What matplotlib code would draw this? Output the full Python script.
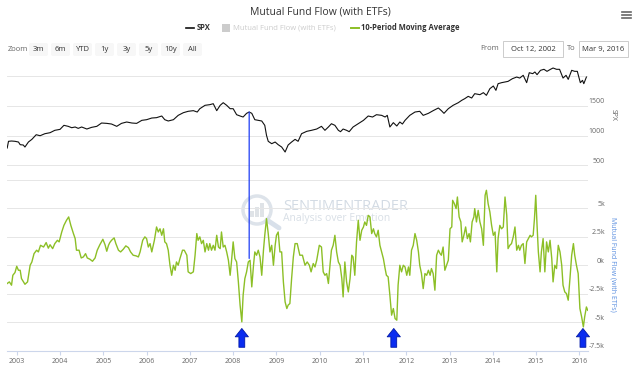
import matplotlib
matplotlib.use('Agg')
import matplotlib.pyplot as plt
from matplotlib.patches import ConnectionPatch, FancyBboxPatch, Rectangle, Circle
import matplotlib.transforms as mtransforms

plt.rcParams['font.family'] = ['Open Sans', 'DejaVu Sans']

# --- data (decimal years) ---
spx_dates = [2002.78, 2002.81, 2002.88, 2002.96, 2003.04, 2003.08, 2003.15, 2003.19, 2003.27, 2003.35,
             2003.45, 2003.54, 2003.65, 2003.77, 2003.88, 2004.00, 2004.09, 2004.19, 2004.27, 2004.35,
             2004.42, 2004.50, 2004.62, 2004.73, 2004.85, 2004.96, 2005.08, 2005.19, 2005.31, 2005.42,
             2005.54, 2005.66, 2005.77, 2005.89, 2006.00, 2006.12, 2006.23, 2006.35, 2006.42, 2006.50,
             2006.62, 2006.73, 2006.85, 2006.96, 2007.08, 2007.17, 2007.23, 2007.35, 2007.46, 2007.54,
             2007.62, 2007.70, 2007.77, 2007.85, 2007.93, 2008.00, 2008.08, 2008.16, 2008.23, 2008.31,
             2008.37, 2008.43, 2008.50, 2008.58, 2008.66, 2008.73, 2008.77, 2008.81, 2008.89, 2008.97,
             2009.04, 2009.12, 2009.20, 2009.27, 2009.35, 2009.43, 2009.50, 2009.58, 2009.70, 2009.81,
             2009.93, 2010.04, 2010.12, 2010.20, 2010.27, 2010.35, 2010.43, 2010.48, 2010.54, 2010.62,
             2010.68, 2010.77, 2010.89, 2011.01, 2011.12, 2011.22, 2011.31, 2011.43, 2011.51, 2011.56,
             2011.62, 2011.70, 2011.78, 2011.85, 2011.91, 2011.97, 2012.08, 2012.20, 2012.31, 2012.39,
             2012.51, 2012.62, 2012.74, 2012.81, 2012.87, 2012.97, 2013.08, 2013.20, 2013.28, 2013.35,
             2013.43, 2013.51, 2013.58, 2013.70, 2013.78, 2013.85, 2013.93, 2014.01, 2014.07, 2014.12,
             2014.20, 2014.28, 2014.35, 2014.45, 2014.55, 2014.62, 2014.70, 2014.78, 2014.84, 2014.92,
             2014.97, 2015.02, 2015.10, 2015.18, 2015.25, 2015.33, 2015.39, 2015.47, 2015.54, 2015.62,
             2015.69, 2015.74, 2015.82, 2015.89, 2015.95, 2016.02, 2016.07, 2016.10, 2016.16]
spx_values = [791, 904, 909, 904, 892, 847, 842, 808, 892, 937,
              1015, 998, 1032, 1049, 1089, 1105, 1173, 1156, 1133, 1145,
              1122, 1145, 1111, 1139, 1156, 1212, 1206, 1195, 1156, 1206,
              1229, 1212, 1206, 1257, 1268, 1296, 1302, 1330, 1268, 1246,
              1268, 1341, 1386, 1409, 1420, 1397, 1453, 1510, 1521, 1537,
              1420, 1510, 1554, 1510, 1453, 1453, 1352, 1330, 1313, 1375,
              1397, 1375, 1268, 1257, 1246, 1173, 1005, 904, 864, 892,
              847, 808, 724, 842, 892, 937, 904, 1032, 1072, 1089,
              1111, 1156, 1089, 1145, 1200, 1173, 1089, 1066, 1111, 1089,
              1066, 1145, 1200, 1257, 1330, 1313, 1352, 1341, 1313, 1341,
              1145, 1218, 1162, 1229, 1195, 1257, 1341, 1397, 1409, 1341,
              1375, 1420, 1465, 1420, 1375, 1453, 1510, 1554, 1594, 1622,
              1661, 1633, 1706, 1689, 1723, 1678, 1790, 1835, 1762, 1874,
              1891, 1902, 1913, 1958, 1986, 1969, 2015, 1891, 2059, 2043,
              2071, 2026, 2099, 2116, 2082, 2116, 2138, 2116, 2116, 1969,
              2015, 1947, 2099, 2082, 2082, 1891, 1930, 1874, 1986]

flow_dates = [2002.78, 2002.83, 2002.88, 2002.91, 2002.96, 2003.00, 2003.04, 2003.08, 2003.11, 2003.19,
              2003.25, 2003.31, 2003.35, 2003.40, 2003.46, 2003.50, 2003.55, 2003.62, 2003.68, 2003.73,
              2003.77, 2003.83, 2003.88, 2003.94, 2003.98, 2004.04, 2004.09, 2004.15, 2004.20, 2004.25,
              2004.31, 2004.35, 2004.38, 2004.44, 2004.49, 2004.54, 2004.59, 2004.63, 2004.69, 2004.75,
              2004.81, 2004.86, 2004.92, 2004.99, 2005.04, 2005.08, 2005.12, 2005.15, 2005.19, 2005.25,
              2005.29, 2005.35, 2005.40, 2005.46, 2005.52, 2005.58, 2005.63, 2005.69, 2005.76, 2005.81,
              2005.85, 2005.91, 2005.96, 2006.00, 2006.04, 2006.08, 2006.12, 2006.18, 2006.23, 2006.27,
              2006.31, 2006.35, 2006.39, 2006.42, 2006.46, 2006.50, 2006.54, 2006.58, 2006.62, 2006.66,
              2006.69, 2006.73, 2006.77, 2006.83, 2006.87, 2006.93, 2006.96, 2007.02, 2007.08, 2007.12,
              2007.16, 2007.19, 2007.23, 2007.27, 2007.31, 2007.35, 2007.39, 2007.43, 2007.46, 2007.50,
              2007.54, 2007.58, 2007.62, 2007.66, 2007.70, 2007.73, 2007.77, 2007.81, 2007.85, 2007.89,
              2007.93, 2007.96, 2008.00, 2008.04, 2008.08, 2008.12, 2008.16, 2008.20, 2008.23, 2008.27,
              2008.31, 2008.35, 2008.39, 2008.43, 2008.47, 2008.50, 2008.54, 2008.58, 2008.62, 2008.66,
              2008.70, 2008.73, 2008.77, 2008.81, 2008.85, 2008.89, 2008.93, 2008.97, 2009.00, 2009.04,
              2009.08, 2009.12, 2009.16, 2009.20, 2009.24, 2009.27, 2009.31, 2009.35, 2009.39, 2009.43,
              2009.48, 2009.54, 2009.60, 2009.66, 2009.71, 2009.76, 2009.80, 2009.85, 2009.89, 2009.93,
              2009.99, 2010.04, 2010.08, 2010.12, 2010.16, 2010.20, 2010.24, 2010.27, 2010.31, 2010.35,
              2010.39, 2010.43, 2010.47, 2010.51, 2010.54, 2010.58, 2010.62, 2010.66, 2010.70, 2010.74,
              2010.77, 2010.81, 2010.85, 2010.89, 2010.93, 2010.97, 2011.01, 2011.04, 2011.08, 2011.12,
              2011.16, 2011.20, 2011.24, 2011.27, 2011.31, 2011.35, 2011.39, 2011.43, 2011.47, 2011.51,
              2011.54, 2011.58, 2011.62, 2011.66, 2011.70, 2011.74, 2011.78, 2011.81, 2011.85, 2011.89,
              2011.93, 2011.97, 2012.01, 2012.05, 2012.08, 2012.12, 2012.16, 2012.20, 2012.24, 2012.28,
              2012.31, 2012.35, 2012.39, 2012.43, 2012.47, 2012.51, 2012.55, 2012.58, 2012.62, 2012.66,
              2012.70, 2012.74, 2012.78, 2012.81, 2012.85, 2012.89, 2012.93, 2012.97, 2013.01, 2013.05,
              2013.07, 2013.11, 2013.15, 2013.18, 2013.22, 2013.26, 2013.29, 2013.33, 2013.37, 2013.41,
              2013.45, 2013.48, 2013.52, 2013.56, 2013.58, 2013.62, 2013.66, 2013.70, 2013.74, 2013.78,
              2013.82, 2013.85, 2013.89, 2013.93, 2013.97, 2014.01, 2014.05, 2014.09, 2014.12, 2014.16,
              2014.20, 2014.24, 2014.28, 2014.32, 2014.35, 2014.39, 2014.43, 2014.47, 2014.51, 2014.55,
              2014.59, 2014.62, 2014.66, 2014.70, 2014.74, 2014.78, 2014.82, 2014.86, 2014.89, 2014.93,
              2014.96, 2014.99, 2015.02, 2015.05, 2015.09, 2015.12, 2015.16, 2015.20, 2015.24, 2015.28,
              2015.32, 2015.36, 2015.39, 2015.43, 2015.47, 2015.51, 2015.55, 2015.59, 2015.62, 2015.66,
              2015.70, 2015.74, 2015.78, 2015.82, 2015.86, 2015.89, 2015.93, 2015.97, 2016.01, 2016.05,
              2016.09, 2016.12, 2016.16, 2016.19]
flow_values = [-1.6, -1.46, -1.75, -0.88, -0.64, -0.09, -0.44, -0.44, -1.17, -1.67,
               -1.46, 0.0, 0.29, 1.02, 1.32, 1.17, 1.75, 1.6, 1.99, 1.5,
               1.8, 1.46, 1.9, 2.19, 2.05, 2.92, 3.5, 3.95, 4.24, 3.5,
               2.78, 2.34, 1.32, 1.32, 0.64, 0.73, 1.02, 0.64, 0.53, 0.35,
               0.64, 1.32, 1.8, 2.28, 1.8, 1.23, 1.75, 1.99, 2.19, 2.4,
               1.9, 1.32, 1.17, 1.4, 1.7, 1.55, 1.17, 0.88, 0.82, 0.73,
               1.17, 2.19, 2.49, 2.34, 1.6, 1.9, 1.17, 2.19, 3.36, 2.92,
               3.2, 2.63, 3.2, 2.05, 1.9, 1.32, 0.0, -0.88, 0.0, -0.44,
               0.29, 0.0, 0.58, 1.32, 1.32, 0.88, -0.58, -0.73, -0.58, 0.88,
               2.78, 2.19, 2.49, 1.9, 2.19, 1.17, 1.9, 1.32, 1.9, 1.32,
               1.75, 1.32, 2.63, 1.6, 1.46, 2.92, 1.6, 1.75, 1.17, 0.44,
               -0.88, 0.29, 2.05, 0.58, 0.29, -1.46, -3.5, -4.97, -2.63, -1.17,
               -0.58, 0.29, 0.44, -1.9, 0.0, 1.17, 0.88, 1.32, 0.73, -0.88,
               1.32, 2.63, 4.09, 2.78, 1.17, 1.75, 0.0, 1.75, 2.63, 2.92,
               1.17, 1.17, -1.46, -3.22, -3.8, -3.5, -3.36, -1.17, 0.73, 1.9,
               1.9, 0.88, 0.88, 0.0, 0.29, 0.0, -0.58, 0.15, -0.15, 0.44,
               1.75, 1.6, -0.58, -0.88, -0.73, -1.6, 0.15, 1.32, 1.75, 2.63,
               1.17, 0.29, 0.0, -1.17, -2.78, 0.29, -1.46, -2.34, -1.17, 0.88,
               0.73, -0.88, 2.05, 3.95, 2.19, 3.07, 3.36, 3.8, 3.5, 4.38,
               4.24, 2.78, 3.2, 2.78, 2.49, 3.07, 1.75, 1.17, 0.58, -0.29,
               -0.88, -1.02, -2.63, -4.38, -3.8, -4.68, -4.82, -1.75, 0.0, -0.58,
               0.0, -0.15, -0.88, -0.15, -0.88, 1.32, 1.75, 2.78, 2.19, 1.17,
               0.0, -0.73, -2.05, -0.73, -0.88, -0.44, -0.88, -0.29, -0.73, -2.19,
               0.88, 1.32, 1.02, 0.88, 1.6, -0.44, 0.0, 0.44, 3.2, 3.36,
               5.7, 5.4, 4.97, 5.99, 4.24, 3.8, 2.05, 2.63, 3.36, 2.34,
               2.78, 2.05, 3.8, 4.24, 4.97, 3.8, 4.82, 3.8, 3.2, 1.75,
               6.14, 6.58, 5.4, 4.68, 3.5, 2.63, 2.92, -0.58, 2.34, 3.5,
               3.2, 3.36, 5.99, 4.38, 1.46, 1.75, 1.9, 2.49, 3.36, 1.32,
               1.75, 1.32, 1.75, 1.9, 0.15, 2.05, 2.34, 2.63, 2.49, 2.63,
               4.09, 6.14, 3.5, 1.17, -0.58, 1.17, 2.34, -0.58, 2.05, 1.17,
               2.19, 0.58, -1.46, 0.0, -0.29, 1.75, 1.17, 0.0, -1.75, -2.34,
               -2.49, -3.07, -1.17, 0.88, 1.9, 0.88, 0.0, -0.73, -3.8, -4.53,
               -5.41, -4.53, -3.66, -3.95]

marker_date, marker_spx, marker_flow = 2008.37, 1397, 0.6
arrow_dates = [2008.20, 2011.71, 2016.08]

years = list(range(2003, 2017))
spx_ticks = [500, 1000, 1500, 2000]
flow_ticks = [-7.5, -5, -2.5, 0, 2.5, 5, 7.5]
flow_tick_labels = ['-7.5k', '-5k', '-2.5k', '0k', '2.5k', '5k', '']
zoom_buttons = ['3m', '6m', 'YTD', '1y', '3y', '5y', '10y', 'All']

GREEN = '#8cbf26'
GRID = '#e6e6e6'
W, H = 640, 373

fig = plt.figure(figsize=(6.4, 3.73), dpi=100)


def px_axes(l, r, t, b, **kw):
    return fig.add_axes([l / W, 1 - b / H, (r - l) / W, (b - t) / H], **kw)


# overlay in pixel coordinates for header + watermark (behind the data)
deco = px_axes(0, W, 0, H, zorder=0)
deco.set_xlim(0, W)
deco.set_ylim(H, 0)
deco.axis('off')

ax1 = px_axes(7.2, 587.7, 61, 179.8, zorder=2)
ax2 = px_axes(7.2, 587.7, 179.8, 350.7, zorder=2)
for ax in (ax1, ax2):
    ax.set_facecolor('none')
    ax.set_xlim(2002.78, 2016.19)
    for s in ax.spines.values():
        s.set_visible(False)
    ax.tick_params(left=False, labelleft=False)

ax1.set_ylim(256, 2256)
ax2.set_ylim(-7.5, 7.5)

ax1.plot(spx_dates, spx_values, color='#111111', lw=0.8, zorder=3)
ax2.plot(flow_dates, flow_values, color=GREEN, lw=1.0, zorder=3)

for v in spx_ticks:
    ax1.axhline(v, color=GRID, lw=0.7, zorder=1)
for v in flow_ticks[1:]:
    ax2.axhline(v, color=GRID, lw=0.7, zorder=1)

# right-hand labels, sitting just above their gridlines
for ax, ticks, labels in ((ax1, spx_ticks[:-1], ['500', '1000', '1500']),
                          (ax2, flow_ticks, flow_tick_labels)):
    tr = mtransforms.offset_copy(mtransforms.blended_transform_factory(ax.transAxes, ax.transData),
                                 fig=fig, x=0, y=4, units='dots')
    for v, lab in zip(ticks, labels):
        ax.text(1.0298, v, lab, transform=tr, ha='right', va='center', fontsize=5, color='#666666')

fig.text(613 / W, 1 - 115 / H, 'SPX', rotation=270, ha='center', va='center', fontsize=5, color='#666666')
fig.text(613 / W, 1 - 264.5 / H, 'Mutual Fund Flow (with ETFs)', rotation=270, ha='center', va='center',
         fontsize=5, color='#5b8fe0')

ax1.tick_params(bottom=False, labelbottom=False)
ax2.spines['bottom'].set_visible(True)
ax2.spines['bottom'].set_color('#ccd6eb')
ax2.spines['bottom'].set_linewidth(0.8)
ax2.set_xticks(years)
ax2.set_xticklabels([str(y) for y in years])
ax2.tick_params(axis='x', direction='out', length=3, width=0.8, color='#ccd6eb',
                labelsize=5, labelcolor='#666666', pad=2)

# event line joining the two panels
con = ConnectionPatch(xyA=(marker_date, marker_spx), coordsA=ax1.transData,
                      xyB=(marker_date, marker_flow), coordsB=ax2.transData,
                      color='#1f3df5', lw=0.9, zorder=5)
fig.add_artist(con)

# blue arrows under the lows
for d in arrow_dates:
    ax2.annotate('', xy=(d, -5.55), xytext=(d, -7.2), annotation_clip=False,
                 arrowprops=dict(arrowstyle='simple,head_width=0.95,head_length=0.6,tail_width=0.42',
                                 mutation_scale=10, facecolor='#0a2cf0', edgecolor='#0018a8',
                                 lw=0.6, shrinkA=0, shrinkB=0))

# header
deco.text(320, 12, 'Mutual Fund Flow (with ETFs)', ha='center', va='center', fontsize=7.5, color='#333333')
deco.plot([186, 194], [28, 28], color='#111111', lw=1.2)
deco.text(197, 28, 'SPX', ha='left', va='center', fontsize=5.5, color='#333333', fontweight='bold')
deco.add_patch(Rectangle((222, 24), 8, 8, facecolor='#cccccc', edgecolor='none'))
deco.text(233, 28, 'Mutual Fund Flow (with ETFs)', ha='left', va='center', fontsize=5.5, color='#cccccc')
deco.plot([351, 359], [28, 28], color=GREEN, lw=1.4)
deco.text(361, 28, '10-Period Moving Average', ha='left', va='center', fontsize=5.5, color='#333333',
          fontweight='bold')

deco.text(8, 49.5, 'Zoom', ha='left', va='center', fontsize=5.5, color='#666666')
bx = 29
for lab in zoom_buttons:
    deco.add_patch(FancyBboxPatch((bx, 43), 19, 13, boxstyle='round,pad=0,rounding_size=2',
                                  facecolor='#f7f7f7', edgecolor='none'))
    deco.text(bx + 9.5, 49.5, lab, ha='center', va='center', fontsize=5.5, color='#333333')
    bx += 22

deco.text(490, 49, 'From', ha='center', va='center', fontsize=5.5, color='#666666')
deco.add_patch(Rectangle((503, 41), 60, 16, facecolor='white', edgecolor='#cccccc', lw=0.7))
deco.text(533, 49, 'Oct 12, 2002', ha='center', va='center', fontsize=5.5, color='#333333')
deco.text(571, 49, 'To', ha='center', va='center', fontsize=5.5, color='#666666')
deco.add_patch(Rectangle((579, 41), 49, 16, facecolor='white', edgecolor='#cccccc', lw=0.7))
deco.text(603.5, 49, 'Mar 9, 2016', ha='center', va='center', fontsize=5.5, color='#333333')
for yy in (12, 15, 18):
    deco.plot([622, 631], [yy, yy], color='#666666', lw=1.2)

# watermark
deco.add_patch(Circle((257, 210), 14, facecolor='none', edgecolor='#dde3ea', lw=2.5))
for i, hgt in enumerate([6, 10, 14]):
    deco.add_patch(Rectangle((250 + i * 5, 217 - hgt), 3.5, hgt, facecolor='#dfe3e7', edgecolor='none'))
deco.plot([267, 279], [220, 228], color='#d8e0ea', lw=3.5, solid_capstyle='round')
deco.text(283, 206, 'SENTIMENTRADER', ha='left', va='center', fontsize=10.5, color='#d3dbe4')
deco.text(283, 218, 'Analysis over Emotion', ha='left', va='center', fontsize=7.5, color='#d8dfe6')

fig.savefig('out.png', dpi=100)
